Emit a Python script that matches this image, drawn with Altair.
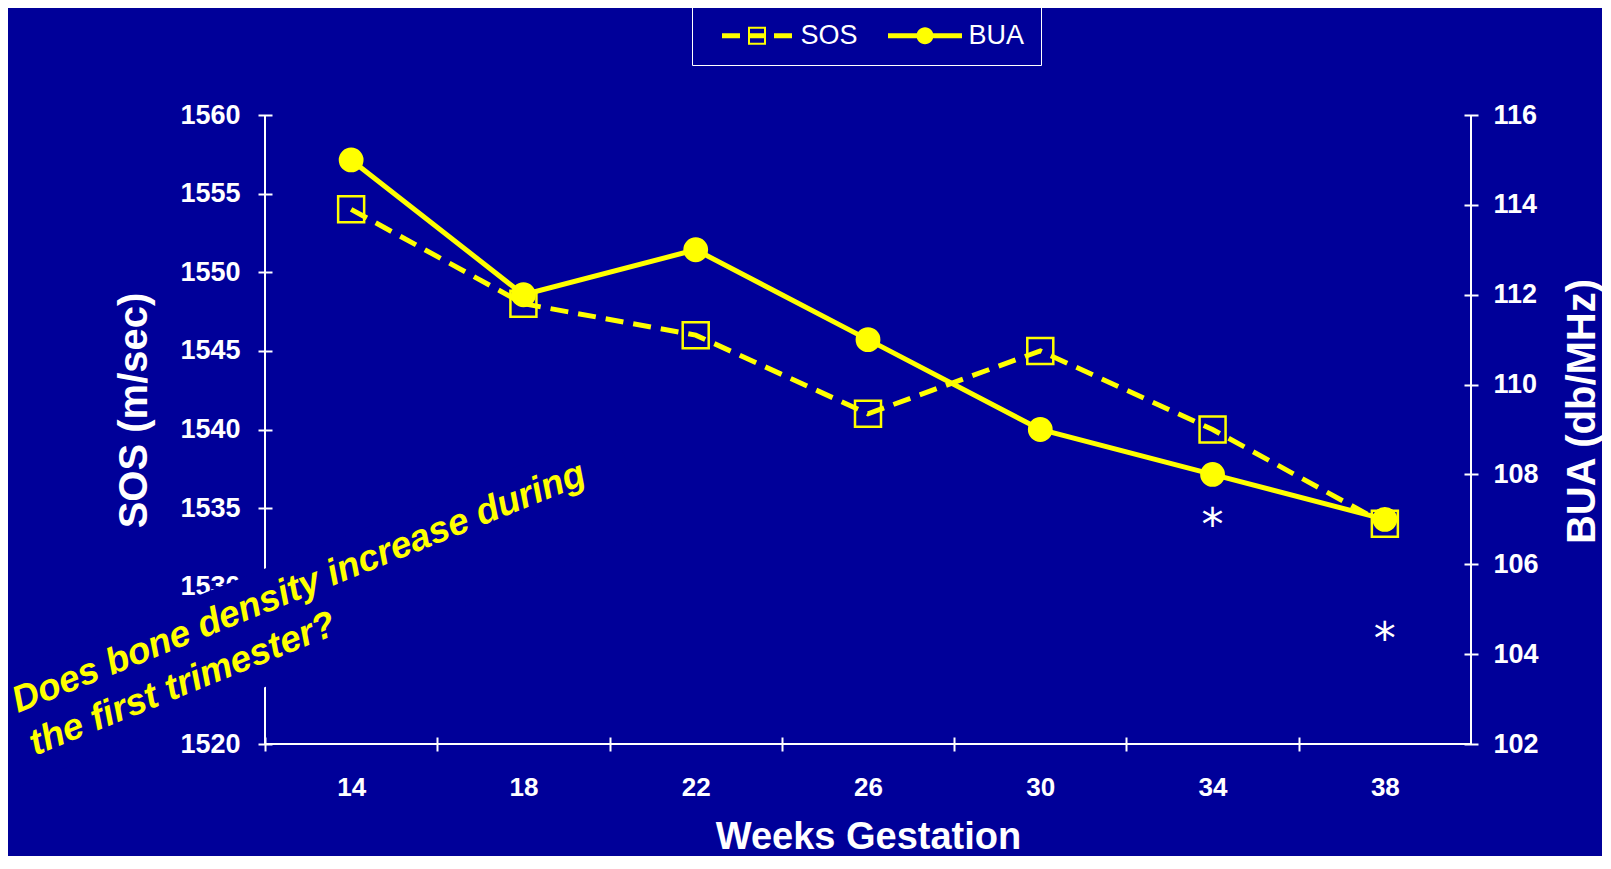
import altair as alt
import pandas as pd

# ---------------- data ----------------
weeks = [14, 18, 22, 26, 30, 34, 38]
sos = [1554, 1548, 1546, 1541, 1545, 1540, 1534]
bua = [115, 112, 113, 111, 109, 108, 107]
star_weeks = [34, 38]
star_sos = [1534.6, 1527.4]
series_names = ["SOS", "BUA"]
sos_ticks = [1520, 1525, 1530, 1535, 1540, 1545, 1550, 1555, 1560]
bua_ticks = [102, 104, 106, 108, 110, 112, 114, 116]
note_lines = ["Does bone density increase during", "the first trimester?"]

# ---------------- style ----------------
BG = "#000099"
YEL = "#FFFF00"
FONT = "Liberation Sans"
W, H = 1206, 629
half = W / len(weeks) / 2

df = pd.DataFrame({"week": weeks, "sos": sos, "bua": bua})
stars = pd.DataFrame({"week": star_weeks, "sos": star_sos})
leg = pd.DataFrame({"series": series_names})
one = pd.DataFrame({"k": [0]})

x_enc = alt.X(
    "week:O",
    scale=alt.Scale(type="point", padding=0.5, domain=weeks),
    axis=alt.Axis(
        title="Weeks Gestation", orient="bottom", domain=False, grid=False,
        offset=-7, tickSize=14, tickWidth=2, tickColor="white",
        tickOffset=-half, labelOffset=half, labelAngle=0,
        labelColor="white", labelFont=FONT, labelFontSize=26, labelFontWeight="bold",
        labelPadding=23,
        titleColor="white", titleFont=FONT, titleFontSize=38, titleFontWeight="bold",
        titlePadding=18,
    ),
)

y_sos = alt.Y(
    "sos:Q",
    scale=alt.Scale(domain=[1520, 1560], nice=False, zero=False),
    axis=alt.Axis(
        orient="left", values=sos_ticks, format="d", domain=False, grid=False,
        offset=-7, tickSize=14, tickWidth=2, tickColor="white",
        labelColor="white", labelFont=FONT, labelFontSize=27, labelFontWeight="bold",
        labelPadding=18,
        title="SOS (m/sec)", titleColor="white", titleFont=FONT, titleFontSize=40,
        titleFontWeight="bold", titlePadding=25, titleY=295,
    ),
)

y_bua = alt.Y(
    "bua:Q",
    scale=alt.Scale(domain=[102, 116], nice=False, zero=False),
    axis=alt.Axis(
        orient="right", values=bua_ticks, format="d", domain=False, grid=False,
        offset=-7, tickSize=14, tickWidth=2, tickColor="white",
        labelColor="white", labelFont=FONT, labelFontSize=27, labelFontWeight="bold",
        labelPadding=15,
        title="BUA (db/MHz)", titleColor="white", titleFont=FONT, titleFontSize=40,
        titleFontWeight="bold", titlePadding=24, titleAngle=270, titleBaseline="top",
        titleY=296,
    ),
)

# axis lines (drawn as rules so that ticks can cross them)
rule_left = alt.Chart(one).mark_rule(color="white", strokeWidth=2).encode(
    x=alt.value(0), y=alt.value(0), y2=alt.value(H))
rule_right = alt.Chart(one).mark_rule(color="white", strokeWidth=2).encode(
    x=alt.value(W), y=alt.value(0), y2=alt.value(H))
rule_bottom = alt.Chart(one).mark_rule(color="white", strokeWidth=2).encode(
    y=alt.value(H), x=alt.value(0), x2=alt.value(W))

sos_line = alt.Chart(df).mark_line(color=YEL, strokeWidth=5, strokeDash=[18, 10]).encode(
    x=x_enc, y=y_sos)
sos_pts = alt.Chart(df).mark_point(
    shape="square", size=676, filled=False, color=YEL, strokeWidth=2.5, opacity=1
).encode(x=x_enc, y=y_sos)
star_txt = alt.Chart(stars).mark_text(
    text="*", font="DejaVu Sans", fontSize=44, color="white", baseline="middle", dy=13
).encode(x=x_enc, y=y_sos)

# rotated background box behind the question text
box_path = "M-1,-0.157H1V0.157H-1Z"
note_box = alt.Chart(one).mark_point(
    shape=box_path, size=490000, angle=338, filled=True, color=BG, opacity=1, strokeWidth=0
).encode(x=alt.value(44), y=alt.value(495))
note = alt.Chart(one).mark_text(
    text=note_lines, align="left", baseline="alphabetic", angle=338,
    font=FONT, fontSize=37, fontStyle="italic", fontWeight="bold", color=YEL, lineHeight=46,
).encode(x=alt.value(-247), y=alt.value(598))

# legend carrier (no marks drawn, only the legend)
p_sos = ("M-4.9,0L-4.9,0.001L-4.899,0Z"
         "M-3.5,-0.25H-1.7V0.25H-3.5Z"
         "M-0.9,-0.25H0.9V0.25H-0.9Z"
         "M1.7,-0.25H3.5V0.25H1.7Z"
         "M-0.9,-0.9H0.9V0.9H-0.9Z"
         "M-0.7,-0.7V0.7H0.7V-0.7Z")
p_bua = ("M-3.7,-0.25H3.7V0.25H-3.7Z"
         "M-0.85,0A0.85,0.85 0 1,1 0.85,0A0.85,0.85 0 1,1 -0.85,0Z"
         "M9.6,0L9.6,0.001L9.601,0Z")
legend = alt.Legend(
    title=None, orient="none", legendX=427, legendY=-109, direction="horizontal",
    padding=16, strokeColor="white", labelColor="white", labelFont=FONT,
    labelFontSize=27, symbolSize=400, symbolStrokeWidth=0, symbolOffset=35.5,
    labelOffset=30, columnPadding=18, symbolOpacity=1,
)
carrier = alt.Chart(leg).transform_filter("false").mark_point(
    filled=True, opacity=1, strokeWidth=0, size=400
).encode(
    shape=alt.Shape("series:N", scale=alt.Scale(domain=series_names, range=[p_sos, p_bua]),
                    legend=legend),
    color=alt.Color("series:N", scale=alt.Scale(domain=series_names, range=[YEL, YEL]),
                    legend=legend),
)

bua_line = alt.Chart(df).mark_line(color=YEL, strokeWidth=5).encode(x=x_enc, y=y_bua)
bua_pts = alt.Chart(df).mark_circle(size=616, color=YEL, opacity=1).encode(x=x_enc, y=y_bua)

left_group = alt.layer(rule_left, rule_right, rule_bottom, sos_line, sos_pts, star_txt,
                       note_box, note, carrier)
right_group = alt.layer(bua_line, bua_pts)

chart = (
    alt.layer(left_group, right_group)
    .resolve_scale(y="independent")
    .properties(
        width=W, height=H, autosize="none",
        padding={"left": 257, "top": 107, "right": 131, "bottom": 112},
        background=BG,
    )
    .configure_view(stroke=None)
)

chart.save("out.html", embed_options={"renderer": "svg", "actions": False})
